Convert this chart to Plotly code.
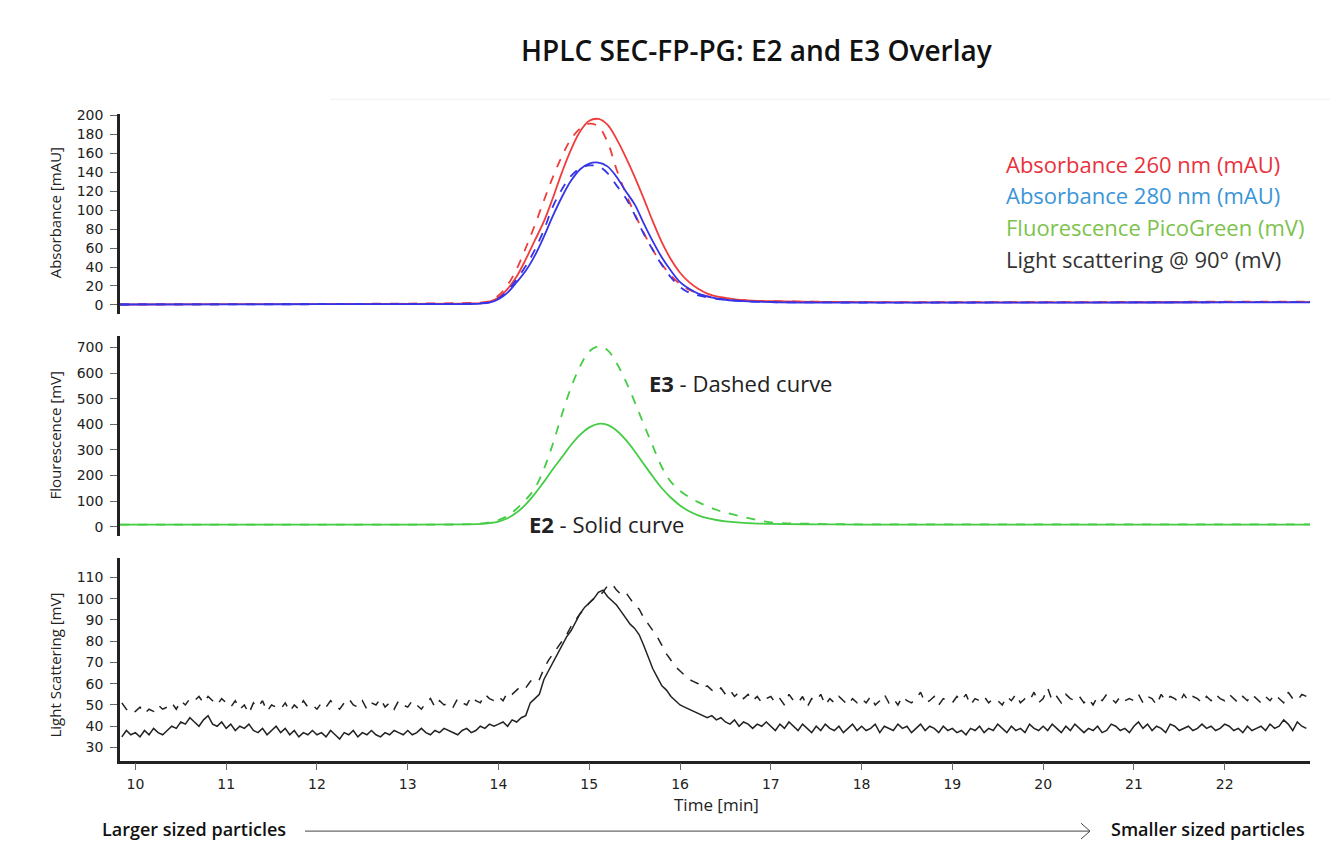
import plotly.graph_objects as go

W, H = 1344, 844
OFF = 8  # default page margin of the html body

# ---------------- data ----------------
abs_time = [9.83, 11, 12, 13, 13.6, 13.8, 13.9, 14.0, 14.1, 14.2, 14.3, 14.4, 14.5, 14.6, 14.7,
            14.8, 14.9, 15.0, 15.1, 15.2, 15.3, 15.4, 15.5, 15.6, 15.7, 15.8, 15.9, 16.0, 16.1,
            16.2, 16.3, 16.4, 16.5, 16.7, 17.0, 17.5, 18, 19, 20, 21, 22, 22.94]

a260_e2 = [0.5, 0.8, 1, 1.2, 1.5, 2, 3.5, 8, 17, 30, 48, 68, 88, 113, 140, 164, 183, 194, 196, 190,
           175, 156, 135, 112, 88, 66, 48, 34, 24, 17, 12, 9, 7.5, 5, 4, 3.3, 3, 2.8, 2.7, 2.8, 3, 3]
a260_e3 = [0.5, 0.8, 1, 1.5, 2, 2.5, 4, 10, 21, 38, 60, 84, 110, 135, 157, 175, 186, 191, 188, 172,
           143, 118, 96, 76, 58, 43, 31, 22, 16, 12, 9, 7.5, 6.5, 5, 4, 3.5, 3, 3, 3, 3.2, 3.5, 3.5]
a280_e2 = [0.5, 0.7, 0.8, 1, 1, 1.5, 2.5, 6, 13, 24, 36, 52, 72, 94, 114, 131, 143, 149, 150, 146,
           135, 120, 106, 86, 67, 50, 36, 24, 17, 12, 9, 7, 5.5, 4, 3, 2.5, 2.5, 2.5, 2.5, 2.6, 2.7, 2.7]
a280_e3 = [0.5, 0.7, 0.8, 1, 1.2, 1.8, 3, 7, 15, 27, 41, 58, 79, 104, 122, 136, 144, 147, 146, 139,
           126, 113, 95, 75, 58, 42, 29, 19, 13, 10, 8, 6.5, 5.5, 4, 3, 2.7, 2.6, 2.6, 2.7, 2.8, 2.9, 2.9]

fl_time = abs_time
fl_e2 = [8, 8, 8, 8, 9, 11, 14, 20, 33, 55, 87, 128, 175, 225, 272, 320, 360, 388, 402, 398, 376,
         340, 295, 245, 196, 150, 113, 83, 60, 44, 33, 26, 21, 15, 11, 9, 8, 8, 8, 8, 8, 8]
fl_e3 = [8, 8, 8, 8, 9, 12, 17, 26, 42, 70, 105, 150, 225, 325, 440, 545, 628, 685, 704, 690, 640,
         570, 488, 400, 315, 232, 175, 140, 115, 96, 80, 66, 55, 38, 17, 11, 9, 9, 9, 9, 9, 9]

ls_start, ls_step = 9.85, 0.05
ls_e2 = [35, 38, 36,
         37, 35, 38, 36, 39, 37, 36, 38, 40, 39, 42, 41, 44, 42, 40, 43, 45, 41, 40, 42,
         39, 41, 38, 40, 39, 41, 38, 37, 39, 36, 38, 40, 37, 39, 36, 38, 35, 37, 36, 38,
         36, 37, 35, 38, 36, 34, 37, 36, 38, 35, 37, 36, 38, 36, 35, 37, 36, 38, 37, 36,
         38, 36, 37, 39, 37, 36, 38, 37, 39, 38, 37, 36, 38, 39, 37, 38, 40, 39, 41, 40,
         41, 42, 40, 43, 42, 44, 45, 51, 53, 55, 62, 66, 70, 74, 78, 82, 85, 89, 93, 96,
         98, 100, 103, 104, 101, 99, 97, 94, 91, 88, 86, 83, 78, 72, 67, 63, 59, 57, 54, 52,
         50, 49, 48, 47, 46, 45, 44, 45, 43, 44, 42, 41, 43, 40, 42, 41, 39, 41, 40, 42,
         40, 38, 41, 39, 42, 40, 38, 41, 39, 37, 40, 38, 41, 39, 38, 40, 37, 39, 41, 38,
         40, 38, 39, 41, 37, 40, 39, 38, 41, 39, 40, 37, 39, 41, 38, 40, 39, 37, 40, 38,
         39, 37, 38, 36, 39, 38, 40, 37, 39, 38, 41, 39, 37, 40, 38, 39, 37, 41, 39, 38,
         40, 38, 41, 39, 37, 40, 38, 41, 39, 37, 39, 38, 40, 37, 38, 41, 40, 38, 39, 37,
         40, 42, 39, 41, 38, 40, 39, 37, 41, 40, 38, 39, 40, 38, 39, 41, 39, 40, 38, 39,
         41, 40, 38, 39, 37, 40, 38, 39, 40, 38, 41, 39, 40, 43, 41, 38, 42, 40, 39]
ls_e3 = [51, 48, 46,
         47, 49, 46, 48, 47, 50, 48, 49, 51, 48, 52, 50, 53, 52, 54, 51, 54, 52, 50, 53,
         51, 49, 52, 48, 50, 46, 51, 49, 52, 47, 50, 49, 48, 51, 47, 50, 48, 52, 49, 50,
         48, 51, 49, 52, 50, 48, 51, 53, 50, 49, 52, 48, 51, 50, 53, 49, 51, 48, 52, 50,
         49, 52, 50, 48, 51, 53, 49, 52, 50, 51, 49, 53, 51, 50, 54, 52, 51, 55, 53, 52,
         54, 52, 56, 55, 57, 59, 58, 61, 63, 62, 67, 71, 74, 77, 80, 83, 87, 90, 93, 95,
         98, 100, 101, 103, 106, 107, 104, 102, 103, 100, 97, 95, 91, 88, 85, 82, 78, 74, 71, 68,
         66, 64, 62, 61, 60, 58, 59, 57, 56, 58, 55, 57, 54, 56, 53, 55, 52, 54, 51, 53,
         54, 51, 53, 50, 55, 52, 51, 54, 49, 53, 52, 55, 50, 53, 51, 54, 52, 50, 53, 51,
         53, 51, 54, 50, 52, 55, 51, 53, 50, 54, 52, 51, 53, 56, 51, 52, 54, 50, 53, 52,
         51, 54, 52, 55, 50, 53, 52, 54, 51, 53, 52, 50, 54, 52, 55, 51, 53, 52, 56, 51,
         53, 58, 52, 54, 51, 55, 53, 52, 54, 51, 53, 50, 54, 52, 55, 53, 51, 54, 52, 53,
         52, 55, 51, 54, 53, 50, 55, 52, 54, 53, 51, 55, 52, 54, 53, 51, 54, 52, 55, 53,
         52, 55, 53, 51, 54, 52, 55, 53, 51, 54, 52, 55, 53, 51, 56, 53, 52, 55, 54]
ls_time = [round(ls_start + ls_step * i, 3) for i in range(len(ls_e2))]

x_ticks = list(range(10, 23))
abs_ticks = list(range(0, 201, 20))
fl_ticks = list(range(0, 701, 100))
ls_ticks = list(range(30, 111, 10))

legend_labels = ["Absorbance 260 nm (mAU)", "Absorbance 280 nm (mAU)",
                 "Fluorescence PicoGreen (mV)", "Light scattering @ 90° (mV)"]
legend_colors = ["#e8323c", "#3a95d8", "#7dc24b", "#333333"]

# ---------------- figure ----------------
RED, BLUE, GREEN, BLACK = "#f23b3b", "#3434e8", "#45cc45", "#222222"
FW, FH = W - OFF, H - OFF


def px(x):
    return (x - OFF) / FW


def py(y):
    return 1 - (y - OFF) / FH


fig = go.Figure()


def add(x, y, color, dash, xa, ya, shape="spline", width=1.8):
    fig.add_trace(go.Scatter(x=x, y=y, mode="lines", xaxis=xa, yaxis=ya,
                             line=dict(color=color, dash=dash, width=width, shape=shape),
                             showlegend=False, hoverinfo="skip"))


add(abs_time, a260_e3, RED, "dash", "x", "y")
add(abs_time, a260_e2, RED, "solid", "x", "y")
add(abs_time, a280_e3, BLUE, "dash", "x", "y")
add(abs_time, a280_e2, BLUE, "solid", "x", "y")
add(fl_time, fl_e3, GREEN, "dash", "x2", "y2")
add(fl_time, fl_e2, GREEN, "solid", "x2", "y2")
add(ls_time, ls_e3, BLACK, "dash", "x3", "y3", shape="linear", width=1.5)
add(ls_time, ls_e2, BLACK, "solid", "x3", "y3", shape="linear", width=1.5)

xdom = [px(120), px(1310)]
xr = [9.83, 22.94]
tickfont = dict(family="DejaVu Sans", size=14, color="#222")
axis_common = dict(showgrid=False, zeroline=False, showline=True, linecolor="#222",
                   linewidth=2.5, ticks="outside", ticklen=7, tickwidth=1, tickcolor="#666",
                   tickfont=tickfont, ticklabelstandoff=4)

fig.update_layout(
    width=FW, height=FH, margin=dict(l=0, r=0, t=0, b=0),
    paper_bgcolor="white", plot_bgcolor="white",
    xaxis=dict(domain=xdom, range=xr, visible=False, anchor="y"),
    xaxis2=dict(domain=xdom, range=xr, visible=False, anchor="y2", matches="x"),
    xaxis3=dict(domain=xdom, range=xr, anchor="y3", matches="x", tickvals=x_ticks,
                **axis_common),
    yaxis=dict(domain=[py(310), py(108)], range=[-10, 201], tickvals=abs_ticks,
               anchor="x", **axis_common),
    yaxis2=dict(domain=[py(533), py(332)], range=[-35, 744], tickvals=fl_ticks,
                anchor="x2", **axis_common),
    yaxis3=dict(domain=[py(760), py(556)], range=[23.8, 118.9], tickvals=ls_ticks,
                anchor="x3", **axis_common),
)
fig.update_xaxes(selector=dict(anchor="y3"), ticklabelstandoff=2,
                 tickfont=dict(family="DejaVu Sans", size=14, color="#222"))

ann = []
TF = "Open Sans"
ann.append(dict(text="HPLC SEC-FP-PG: E2 and E3 Overlay", x=px(756), y=py(43),
                font=dict(family=TF, size=28, color="#111", weight=600)))
for lab, yy in zip(["Absorbance [mAU]", "Flourescence [mV]", "Light Scattering [mV]"],
                   [208, 432, 664]):
    ann.append(dict(text=lab, x=px(55), y=py(yy), textangle=-90,
                    font=dict(family=TF, size=15, color="#222")))
for i, (lab, col) in enumerate(zip(legend_labels, legend_colors)):
    ann.append(dict(text=lab, x=px(1004), y=py(158 + 32 * i), xanchor="left",
                    font=dict(family=TF, size=22, color=col)))
ann.append(dict(text="<b>E3</b> - Dashed curve", x=px(647), y=py(379), xanchor="left",
                font=dict(family=TF, size=22, color="#222")))
ann.append(dict(text="<b>E2</b> - Solid curve", x=px(527), y=py(521), xanchor="left",
                font=dict(family=TF, size=22, color="#222")))
ann.append(dict(text="Time [min]", x=px(716), y=py(804),
                font=dict(family=TF, size=17, color="#222", weight=500)))
ann.append(dict(text="Larger sized particles", x=px(100), y=py(829), xanchor="left",
                font=dict(family=TF, size=18, color="#111", weight=600)))
ann.append(dict(text="Smaller sized particles", x=px(1307), y=py(829), xanchor="right",
                font=dict(family=TF, size=18, color="#111", weight=600)))
for a in ann:
    a.update(xref="paper", yref="paper", showarrow=False)
    a.setdefault("xanchor", "center")
    a.setdefault("yanchor", "middle")
fig.update_layout(annotations=ann)

shapes = [
    dict(type="line", x0=px(305), x1=px(1090), y0=py(831), y1=py(831),
         line=dict(color="#444", width=1)),
    dict(type="line", x0=px(1081), x1=px(1090), y0=py(823), y1=py(831),
         line=dict(color="#444", width=1)),
    dict(type="line", x0=px(1081), x1=px(1090), y0=py(839), y1=py(831),
         line=dict(color="#444", width=1)),
    dict(type="line", x0=px(330), x1=px(1330), y0=py(93), y1=py(93),
         line=dict(color="#f0f0f0", width=1)),
]
for s in shapes:
    s.update(xref="paper", yref="paper")
fig.update_layout(shapes=shapes)

fig.write_html("out.html")
